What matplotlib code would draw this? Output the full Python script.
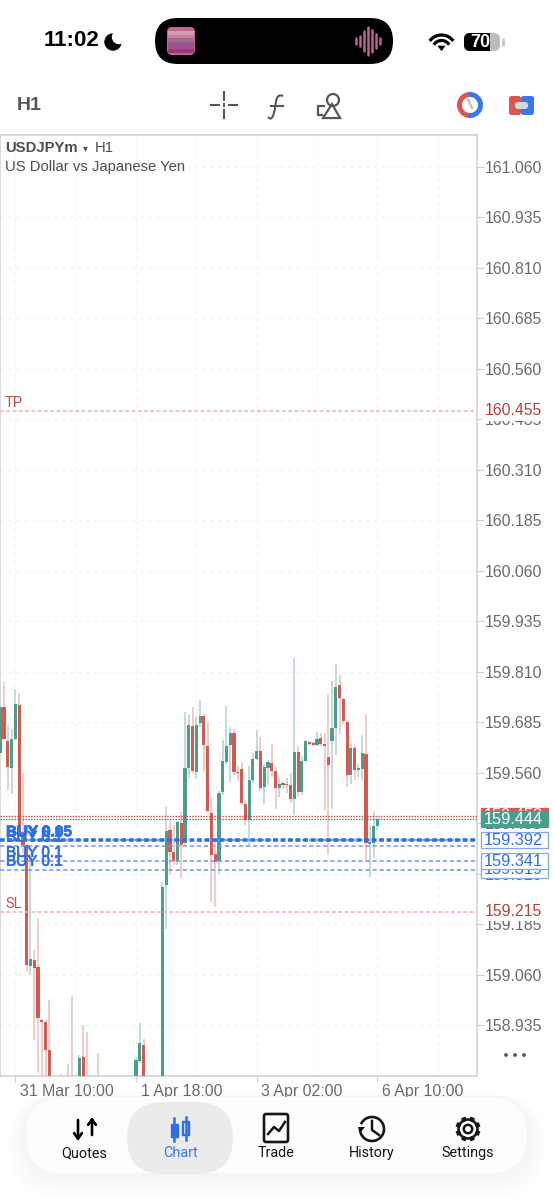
import numpy as np
import matplotlib
matplotlib.use("Agg")
import matplotlib.pyplot as plt
import matplotlib.patheffects as pe
import matplotlib.transforms as mtrans
from matplotlib.path import Path
from matplotlib.patches import FancyBboxPatch, Circle, Rectangle, Polygon, PathPatch

plt.rcParams['font.family'] = ['Liberation Sans', 'DejaVu Sans']

WIDTH = 553
HEIGHT = 1200

# candles, bar 0 is the leftmost one, bars below the chart floor are estimates
opens = [159.608, 159.723, 159.639, 159.572, 159.643, 159.727, 159.414, 159.381, 159.081, 159.096,
         159.078, 158.947, 158.942, 158.873, 158.78, 158.75, 158.72, 158.70, 158.69, 158.76,
         158.74, 158.70, 158.857, 158.79, 158.76, 158.74, 158.78, 158.75, 158.72, 158.70,
         158.69, 158.68, 158.70, 158.72, 158.70, 158.72, 158.74, 158.846, 158.886, 158.76,
         158.75, 158.74, 158.74, 158.74, 159.282, 159.418, 159.364, 159.34, 159.436, 159.385,
         159.572, 159.676, 159.562, 159.682, 159.700, 159.626, 159.461, 159.358, 159.341, 159.511,
         159.587, 159.628, 159.659, 159.560, 159.570, 159.483, 159.443, 159.542, 159.593, 159.613,
         159.524, 159.571, 159.584, 159.563, 159.521, 159.533, 159.528, 159.530, 159.494, 159.612,
         159.513, 159.589, 159.635, 159.631, 159.628, 159.645, 159.630, 159.599, 159.639, 159.670,
         159.776, 159.741, 159.686, 159.554, 159.620, 159.567, 159.568, 159.605, 159.383, 159.385,
         159.428]
closes = [159.723, 159.642, 159.574, 159.643, 159.729, 159.414, 159.381, 159.084, 159.099, 159.077,
          158.952, 158.943, 158.873, 158.78, 158.75, 158.72, 158.70, 158.69, 158.76, 158.74,
          158.70, 158.854, 158.79, 158.76, 158.74, 158.78, 158.75, 158.72, 158.70, 158.69,
          158.68, 158.70, 158.72, 158.70, 158.72, 158.74, 158.849, 158.890, 158.76, 158.75,
          158.74, 158.74, 158.74, 159.278, 159.415, 159.364, 159.34, 159.437, 159.381, 159.572,
          159.678, 159.565, 159.678, 159.700, 159.628, 159.465, 159.356, 159.338, 159.509, 159.589,
          159.626, 159.659, 159.562, 159.558, 159.484, 159.443, 159.541, 159.593, 159.614, 159.522,
          159.573, 159.585, 159.564, 159.521, 159.532, 159.528, 159.529, 159.494, 159.612, 159.513,
          159.589, 159.637, 159.631, 159.628, 159.643, 159.631, 159.626, 159.579, 159.670, 159.773,
          159.745, 159.688, 159.554, 159.621, 159.566, 159.569, 159.608, 159.385, 159.384, 159.428,
          159.444]
highs = [159.74, 159.785, 159.678, 159.669, 159.768, 159.758, 159.558, 159.368, 159.36, 159.121,
         159.201, 158.95, 158.948, 158.997, 158.79, 158.76, 158.815, 158.73, 158.839, 159.008,
         158.75, 158.861, 158.934, 158.917, 158.77, 158.79, 158.867, 158.76, 158.73, 158.71,
         158.70, 158.71, 158.73, 158.73, 158.73, 158.75, 158.857, 158.941, 158.900, 158.77,
         158.76, 158.75, 158.75, 159.29, 159.475, 159.442, 159.430, 159.44, 159.463, 159.711,
         159.702, 159.723, 159.698, 159.739, 159.705, 159.686, 159.500, 159.393, 159.515, 159.640,
         159.725, 159.673, 159.669, 159.576, 159.587, 159.49, 159.577, 159.608, 159.665, 159.649,
         159.58, 159.59, 159.630, 159.574, 159.546, 159.54, 159.546, 159.558, 159.843, 159.626,
         159.60, 159.64, 159.638, 159.635, 159.661, 159.657, 159.659, 159.754, 159.787, 159.829,
         159.801, 159.745, 159.69, 159.632, 159.628, 159.58, 159.653, 159.705, 159.430, 159.463,
         159.447]
lows = [159.60, 159.64, 159.517, 159.507, 159.640, 159.401, 159.36, 159.067, 159.059, 158.898,
        158.816, 158.80, 158.79, 158.76, 158.72, 158.69, 158.68, 158.67, 158.66, 158.72,
        158.68, 158.68, 158.76, 158.74, 158.72, 158.72, 158.73, 158.70, 158.68, 158.67,
        158.66, 158.67, 158.69, 158.68, 158.69, 158.71, 158.72, 158.840, 158.74, 158.73,
        158.72, 158.72, 158.72, 158.72, 159.174, 159.306, 159.33, 159.33, 159.298, 159.38,
        159.546, 159.56, 159.543, 159.672, 159.562, 159.46, 159.24, 159.228, 159.308, 159.505,
        159.58, 159.537, 159.555, 159.54, 159.48, 159.430, 159.381, 159.535, 159.59, 159.515,
        159.482, 159.529, 159.55, 159.471, 159.500, 159.52, 159.509, 159.484, 159.455, 159.50,
        159.505, 159.585, 159.625, 159.625, 159.625, 159.625, 159.467, 159.356, 159.470, 159.603,
        159.655, 159.68, 159.525, 159.532, 159.542, 159.55, 159.542, 159.343, 159.301, 159.348,
        159.419]

priceTicks = [161.060, 160.935, 160.810, 160.685, 160.560, 160.435, 160.310, 160.185, 160.060,
              159.935, 159.810, 159.685, 159.560, 159.435, 159.310, 159.185, 159.060, 158.935]
dateBars = [4, 36, 68, 100]
dateLabels = ['31 Mar 10:00', '1 Apr 18:00', '3 Apr 02:00', '6 Apr 10:00']
gridBars = [4, 20, 36, 52, 68, 84, 100, 116]

takeProfit = 160.455
stopLoss = 159.215
ask = 159.453
bid = 159.444
orderPrices = [159.392, 159.392, 159.379, 159.341, 159.319]
orderLabels = ['BUY 0.05', 'BUY 0.1', 'BUY 0.1', 'BUY 0.1', 'BUY 0.1']
orderBoxes = [159.319, 159.392, 159.341]

navLabels = ['Quotes', 'Chart', 'Trade', 'History', 'Settings']
navCentres = [84, 180, 276, 372, 468]

GREEN = '#4a9e8e'
RED = '#d8574e'
GREEN_WICK = '#b6d7d0'
RED_WICK = '#f0c2bd'
BLUE = '#2f6fe4'
TEXT_GRAY = '#6a6a6e'
BORDER = '#cfcfcf'


def arc(ax, cx, cy, r, start, end, **kw):
    t = np.radians(np.linspace(start, end, 60))
    ax.plot(cx + r * np.cos(t), cy + r * np.sin(t), **kw)


def roundBox(ax, x0, y0, x1, y1, rad, **kw):
    box = FancyBboxPatch((x0 + rad, y0 + rad), x1 - x0 - 2 * rad, y1 - y0 - 2 * rad,
                         boxstyle='round,pad=%f,rounding_size=%f' % (rad, rad), **kw)
    ax.add_patch(box)


def drawStatusBar(ax):
    ax.text(44, 41, '11:02', fontsize=16, fontweight='bold', color='black', va='center')
    ax.add_patch(Circle((113, 42), 8.7, color='black', lw=0))
    ax.add_patch(Circle((119, 37), 7.2, color='white', lw=0))

    roundBox(ax, 155, 18, 393, 64, 23, fc='black', ec='none')
    roundBox(ax, 167, 27, 195, 55, 5, fc='#c2658f', ec='none')
    stripes = ['#d39ab0', '#c97f9f', '#a9668f', '#8a5a8e', '#b5478a', '#8f3c78']
    for i, c in enumerate(stripes):
        ax.add_patch(Rectangle((168, 31 + i * 3.6), 26, 3.6, fc=c, ec='none'))
    barX = [356, 360, 364, 368, 372, 376, 380]
    barH = [3, 5, 10, 14, 11, 7, 3]
    for x, h in zip(barX, barH):
        ax.plot([x, x], [41 - h, 41 + h], color='#b9668c', lw=1.8, solid_capstyle='round')

    arc(ax, 441.5, 49.5, 14.5, 222, 318, color='black', lw=2.3)
    arc(ax, 441.5, 49.5, 9, 222, 318, color='black', lw=2.3)
    ax.add_patch(Polygon([[438, 46], [445, 46], [441.5, 50.5]], fc='black', ec='black', lw=0.5))

    roundBox(ax, 464, 33, 500, 51, 6, fc='#bdbdbd', ec='none')
    roundBox(ax, 464, 33, 490, 51, 6, fc='black', ec='none')
    ax.add_patch(Rectangle((486, 33), 4, 18, fc='black', ec='none'))
    ax.text(480, 42.5, '70', color='white', fontsize=13, fontweight='bold', ha='center', va='center')
    ax.plot([503, 503], [39, 45], color='#c8c8c8', lw=2, solid_capstyle='round')


def drawToolbar(ax):
    ax.text(17, 105, 'H1', fontsize=14, fontweight='bold', color='#55555a', va='center')
    c = '#55555a'
    ax.plot([211, 219], [105, 105], color=c, lw=1.5)
    ax.plot([229, 237], [105, 105], color=c, lw=1.5)
    ax.plot([224, 224], [92, 100], color=c, lw=1.5)
    ax.plot([224, 224], [110, 118], color=c, lw=1.5)
    ax.plot([224, 224], [104.2, 105.8], color=c, lw=1.5)
    # function icon
    verts = [(283, 96), (276, 93), (276, 102), (275, 108), (274, 114), (272, 122), (268, 117)]
    codes = [Path.MOVETO] + [Path.CURVE4] * 6
    ax.add_patch(PathPatch(Path(verts, codes), fc='none', ec=c, lw=1.5))
    ax.plot([271, 283], [106, 106], color=c, lw=1.5)
    # shapes icon
    ax.plot([324, 318, 318, 322], [106, 106, 115, 115], color=c, lw=1.6)
    ax.add_patch(Circle((333, 100), 6, fc='none', ec=c, lw=1.6))
    ax.add_patch(Polygon([[323, 118], [332, 104], [340, 118]], fc='none', ec=c, lw=1.6))
    # clock and layout icons
    arc(ax, 470, 105, 10.5, 95, 265, color='#d8574e', lw=3.6)
    arc(ax, 470, 105, 10.5, -85, 85, color='#3b78e7', lw=3.6)
    ax.plot([468, 472], [99, 108], color='#b8bcc4', lw=1.6)
    roundBox(ax, 509, 96, 521, 115, 2.5, fc='#d8574e', ec='none')
    roundBox(ax, 521, 96, 534, 115, 2.5, fc='#3b78e7', ec='none')
    roundBox(ax, 515, 102, 528, 109, 3, fc='#d5d8dc', ec='none')


def drawNav(ax):
    # soft shadow under the bar
    for i in range(10):
        g = 26 - i * 2.4
        roundBox(ax, 26 - g * 0.7, 1097 - g * 0.1, 527 + g * 0.7, 1173 + g, 38 + g * 0.5,
                 fc='black', ec='none', alpha=0.004)
    roundBox(ax, 26, 1097, 527, 1173, 38, fc='#fdfdfd', ec='none')
    roundBox(ax, 127, 1102, 233, 1174, 36, fc='#ebebeb', ec='none')

    for label, x in zip(navLabels, navCentres):
        color = '#3b78e7' if label == 'Chart' else '#16161a'
        ax.text(x, 1157, label, fontsize=10.4, color=color, ha='center', va='baseline',
                family='Roboto')

    k = 'black'
    # quotes
    ax.annotate('', xy=(78, 1141), xytext=(78, 1120), arrowprops=dict(arrowstyle='->,head_width=0.28,head_length=0.4', color=k, lw=1.9, shrinkA=0, shrinkB=0))
    ax.annotate('', xy=(92, 1117), xytext=(92, 1135), arrowprops=dict(arrowstyle='->,head_width=0.28,head_length=0.4', color=k, lw=1.9, shrinkA=0, shrinkB=0))
    # chart
    ax.plot([174, 174], [1118, 1141], color=BLUE, lw=1.8)
    ax.add_patch(Rectangle((171, 1124), 6.5, 13, fc=BLUE, ec=BLUE, lw=1))
    ax.plot([186, 186], [1117, 1140], color=BLUE, lw=1.8)
    ax.add_patch(Rectangle((183, 1122), 6, 13, fc='#ebebeb', ec=BLUE, lw=1.7))
    # trade
    roundBox(ax, 264, 1114, 288, 1142, 2, fc='none', ec='#16161a', lw=1.9)
    ax.plot([268, 274, 279, 285], [1134, 1127, 1131, 1122], color='#16161a', lw=1.8)
    # history
    arc(ax, 372, 1129, 12, -150, 175, color='#16161a', lw=1.9)
    ax.plot([372, 372, 379], [1121, 1130, 1135], color='#16161a', lw=1.8)
    ax.add_patch(Polygon([[358, 1127], [365, 1127], [360, 1133]], fc='#16161a', ec='none'))
    # settings
    for a in range(0, 360, 45):
        r = np.radians(a + 22.5)
        ax.plot([468 + 8 * np.cos(r), 468 + 12.5 * np.cos(r)], [1129 + 8 * np.sin(r), 1129 + 12.5 * np.sin(r)],
                color='#16161a', lw=3.4, solid_capstyle='butt')
    ax.add_patch(Circle((468, 1129), 9.5, fc='#fdfdfd', ec='#16161a', lw=1.8))
    ax.add_patch(Circle((468, 1129), 4.2, fc='none', ec='#16161a', lw=1.8))


def drawChart(ax):
    o = np.array(opens)
    c = np.array(closes)
    h = np.array(highs)
    l = np.array(lows)
    bars = np.arange(len(o))
    up = c >= o

    for g in gridBars:
        ax.axvline(g, color='#f2f2f2', lw=0.8, ls=(0, (3, 4)), zorder=1)
    for p in priceTicks:
        ax.axhline(p, color='#f2f2f2', lw=0.8, ls=(0, (3, 4)), zorder=1)

    ax.vlines(bars[up], l[up], h[up], color=GREEN_WICK, lw=1.2, zorder=2)
    ax.vlines(bars[~up], l[~up], h[~up], color=RED_WICK, lw=1.2, zorder=2)
    tops = np.maximum(o, c)
    bottoms = np.minimum(o, c)
    sizes = np.maximum(tops - bottoms, 0.004)
    ax.bar(bars[up], sizes[up], bottom=bottoms[up], width=0.84, color=GREEN, lw=0, zorder=3)
    ax.bar(bars[~up], sizes[~up], bottom=bottoms[~up], width=0.84, color=RED, lw=0, zorder=3)

    # level lines
    ax.axhline(takeProfit, color='#e6b6b2', lw=1.1, ls=(0, (2.6, 1.5)), zorder=4)
    ax.axhline(stopLoss, color='#e6b6b2', lw=1.1, ls=(0, (2.6, 1.5)), zorder=4)
    ax.axhline(ask, color='#c9504a', lw=1, ls=(0, (1.1, 0.9)), zorder=4)
    ax.axhline(bid, color='#3f8f80', lw=1, ls=(0, (1.1, 0.9)), zorder=4)
    for p in orderPrices:
        ax.axhline(p, color='#6c97ec', lw=1.1, ls=(0, (2.8, 1.8)), zorder=4)
    ax.axhline(orderPrices[0], color=BLUE, lw=2.6, ls=(0, (1.3, 0.8)), zorder=4)

    trans = ax.get_yaxis_transform()
    ax.text(5 / 477, takeProfit + 0.002, 'TP', transform=trans, color='#b8524e', fontsize=10.5, va='bottom',
            fontfamily='Roboto', zorder=6)
    ax.text(5 / 477, stopLoss + 0.002, 'SL', transform=trans, color='#b8524e', fontsize=10.5, va='bottom',
            fontfamily='Roboto', zorder=6)
    for p, t in zip(orderPrices, orderLabels):
        txt = ax.text(6 / 477, p + 0.003, t, transform=trans, color=BLUE, fontsize=11, va='bottom',
                      fontweight='bold' if t == 'BUY 0.05' else 'normal', zorder=6)
        txt.set_path_effects([pe.withStroke(linewidth=0.5, foreground=BLUE)])

    ax.set_ylim(158.809, 161.138)
    ax.set_xlim(-0.08, 126.45)
    ax.yaxis.tick_right()
    ax.set_yticks(priceTicks)
    ax.set_yticklabels(['%.3f' % p for p in priceTicks])
    ax.set_xticks(dateBars)
    ax.set_xticklabels(dateLabels)
    ax.tick_params(axis='y', length=5, width=0.8, color=BORDER, labelsize=11.4, labelcolor=TEXT_GRAY, pad=0.6)
    ax.tick_params(axis='x', length=4, width=0.8, color=BORDER, labelsize=11.4, labelcolor=TEXT_GRAY, pad=1.6)
    shift = mtrans.ScaledTranslation(4.5 / 100, 0, ax.figure.dpi_scale_trans)
    for lab in ax.get_xticklabels():
        lab.set_ha('left')
        lab.set_transform(lab.get_transform() + shift)
    for s in ax.spines.values():
        s.set_color(BORDER)
        s.set_linewidth(1.1)

    ax.text(5 / 477, 1 - 13 / 941, 'USDJPYm', transform=ax.transAxes, fontsize=10.7, color='#4d4d52',
            fontweight='bold', va='center', zorder=6)
    ax.text(83 / 477, 1 - 13 / 941, '▾', transform=ax.transAxes, fontsize=7, color='#4d4d52',
            family='DejaVu Sans', va='center', zorder=6)
    ax.text(95 / 477, 1 - 13 / 941, 'H1', transform=ax.transAxes, fontsize=10.7, color='#4d4d52',
            va='center', zorder=6)
    ax.text(5 / 477, 1 - 32 / 941, 'US Dollar vs Japanese Yen', transform=ax.transAxes, fontsize=10.7,
            color='#4d4d52', va='center', zorder=6)

    # price tags on the scale
    def tag(price, text, fc, ec, tc, z):
        ax.add_patch(Rectangle((480.5 / 477, price - 8 / 404), 67 / 477, 16 / 404, transform=trans,
                               fc=fc, ec=ec, lw=0.9, clip_on=False, zorder=z))
        ax.text(513.5 / 477, price, text, transform=trans, fontsize=11.8, color=tc, ha='center',
                va='center', clip_on=False, zorder=z + 0.1)

    ax.text(513 / 477, takeProfit, '%.3f' % takeProfit, transform=trans, fontsize=11.4, color='#b8403a',
            ha='center', va='center', clip_on=False, zorder=7,
            bbox=dict(fc='white', ec='none', pad=1.5))
    ax.text(513 / 477, stopLoss, '%.3f' % stopLoss, transform=trans, fontsize=11.4, color='#b8403a',
            ha='center', va='center', clip_on=False, zorder=7,
            bbox=dict(fc='white', ec='none', pad=1))
    tag(ask, '%.3f' % ask, RED, RED, 'white', 7.2)
    tag(bid, '%.3f' % bid, GREEN, GREEN, 'white', 7.4)
    for i, p in enumerate(orderBoxes):
        tag(p, '%.3f' % p, 'white', '#7fa6ee', BLUE, 7.6 + i * 0.2)


def main():
    fig = plt.figure(figsize=(WIDTH / 100, HEIGHT / 100), dpi=100, facecolor='white')
    chrome = fig.add_axes([0, 0, 1, 1])
    chrome.set_xlim(0, WIDTH)
    chrome.set_ylim(HEIGHT, 0)
    chrome.axis('off')

    chart = fig.add_axes([0, 1 - 1076 / HEIGHT, 477 / WIDTH, 941 / HEIGHT])
    chart.set_facecolor('white')
    chart.set_zorder(2)

    overlay = fig.add_axes([0, 0, 1, 1])
    overlay.set_xlim(0, WIDTH)
    overlay.set_ylim(HEIGHT, 0)
    overlay.axis('off')
    overlay.set_zorder(3)

    drawStatusBar(chrome)
    drawToolbar(chrome)
    drawChart(chart)
    drawNav(overlay)
    for x in [506, 515, 524]:
        overlay.add_patch(Circle((x, 1055), 1.9, fc='#55555a', ec='none'))

    fig.savefig('out.png', dpi=100)


main()
